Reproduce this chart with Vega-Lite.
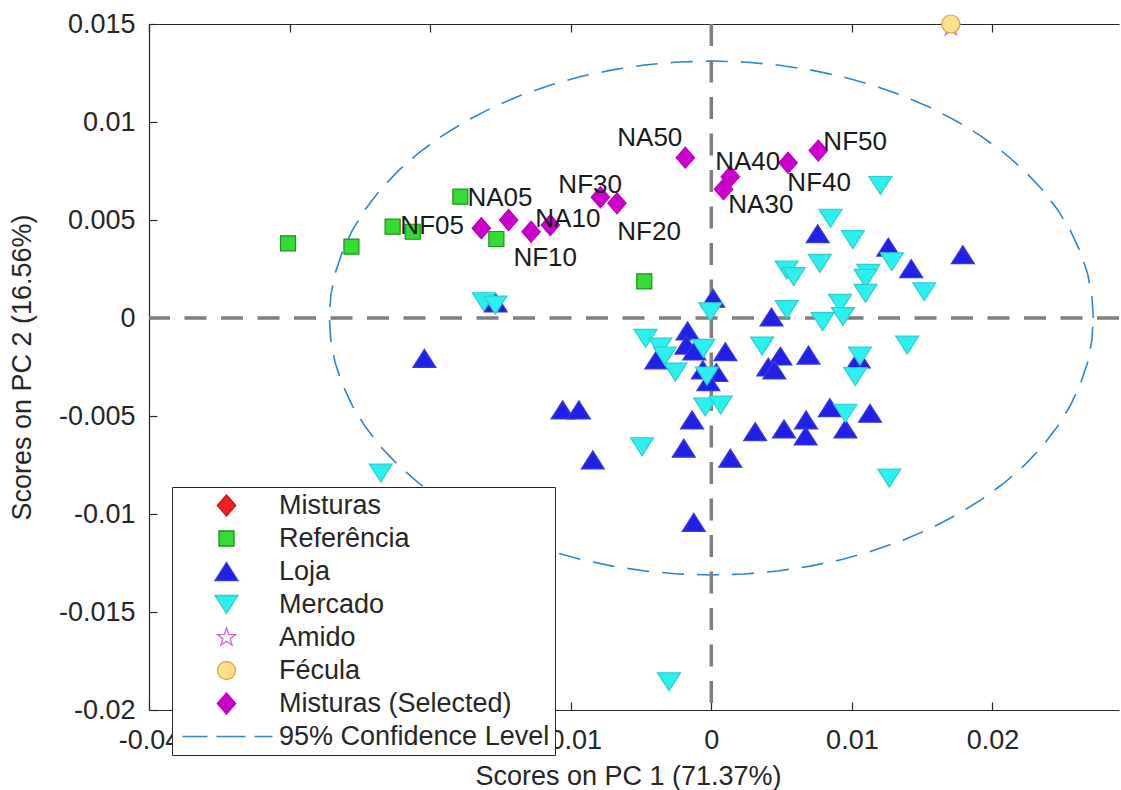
{
  "$schema": "https://vega.github.io/schema/vega-lite/v6.json",
  "width": 970,
  "height": 686,
  "autosize": "none",
  "padding": {"left": 149, "top": 24, "right": 2, "bottom": 80},
  "background": "white",
  "config": {
    "font": "Liberation Sans",
    "view": {"stroke": null},
    "axis": {"grid": false, "domainColor": "#262626", "tickColor": "#262626", "labelColor": "#262626", "titleColor": "#262626", "labelFont": "Liberation Sans", "titleFont": "Liberation Sans", "labelFontSize": 27, "titleFontSize": 27, "titleFontWeight": "normal", "domainWidth": 1.2, "tickWidth": 1.2, "labelFlush": false, "labelOverlap": false}
  },
  "datasets": {
    "ell": [
      {"o":0,"x":0.02717,"y":0},{"o":1,"x":0.02707,"y":0.00114},{"o":2,"x":0.02676,"y":0.00228},{"o":3,"x":0.02624,"y":0.00339},{"o":4,"x":0.02553,"y":0.00448},{"o":5,"x":0.02462,"y":0.00554},{"o":6,"x":0.02353,"y":0.00656},{"o":7,"x":0.02226,"y":0.00752},{"o":8,"x":0.02081,"y":0.00843},{"o":9,"x":0.01921,"y":0.00927},{"o":10,"x":0.01746,"y":0.01004},{"o":11,"x":0.01558,"y":0.01074},{"o":12,"x":0.01359,"y":0.01135},{"o":13,"x":0.01148,"y":0.01188},{"o":14,"x":0.00929,"y":0.01232},{"o":15,"x":0.00703,"y":0.01266},{"o":16,"x":0.00472,"y":0.01291},{"o":17,"x":0.00237,"y":0.01306},{"o":18,"x":0,"y":0.01311},
      {"o":19,"x":-0.00237,"y":0.01306},{"o":20,"x":-0.00472,"y":0.01291},{"o":21,"x":-0.00703,"y":0.01266},{"o":22,"x":-0.00929,"y":0.01232},{"o":23,"x":-0.01148,"y":0.01188},{"o":24,"x":-0.01359,"y":0.01135},{"o":25,"x":-0.01558,"y":0.01074},{"o":26,"x":-0.01746,"y":0.01004},{"o":27,"x":-0.01921,"y":0.00927},{"o":28,"x":-0.02081,"y":0.00843},{"o":29,"x":-0.02226,"y":0.00752},{"o":30,"x":-0.02353,"y":0.00656},{"o":31,"x":-0.02462,"y":0.00554},{"o":32,"x":-0.02553,"y":0.00448},{"o":33,"x":-0.02624,"y":0.00339},{"o":34,"x":-0.02676,"y":0.00228},{"o":35,"x":-0.02707,"y":0.00114},{"o":36,"x":-0.02717,"y":0},
      {"o":37,"x":-0.02707,"y":-0.00114},{"o":38,"x":-0.02676,"y":-0.00228},{"o":39,"x":-0.02624,"y":-0.00339},{"o":40,"x":-0.02553,"y":-0.00448},{"o":41,"x":-0.02462,"y":-0.00554},{"o":42,"x":-0.02353,"y":-0.00656},{"o":43,"x":-0.02226,"y":-0.00752},{"o":44,"x":-0.02081,"y":-0.00843},{"o":45,"x":-0.01921,"y":-0.00927},{"o":46,"x":-0.01746,"y":-0.01004},{"o":47,"x":-0.01558,"y":-0.01074},{"o":48,"x":-0.01359,"y":-0.01135},{"o":49,"x":-0.01148,"y":-0.01188},{"o":50,"x":-0.00929,"y":-0.01232},{"o":51,"x":-0.00703,"y":-0.01266},{"o":52,"x":-0.00472,"y":-0.01291},{"o":53,"x":-0.00237,"y":-0.01306},{"o":54,"x":0,"y":-0.01311},
      {"o":55,"x":0.00237,"y":-0.01306},{"o":56,"x":0.00472,"y":-0.01291},{"o":57,"x":0.00703,"y":-0.01266},{"o":58,"x":0.00929,"y":-0.01232},{"o":59,"x":0.01148,"y":-0.01188},{"o":60,"x":0.01359,"y":-0.01135},{"o":61,"x":0.01558,"y":-0.01074},{"o":62,"x":0.01746,"y":-0.01004},{"o":63,"x":0.01921,"y":-0.00927},{"o":64,"x":0.02081,"y":-0.00843},{"o":65,"x":0.02226,"y":-0.00752},{"o":66,"x":0.02353,"y":-0.00656},{"o":67,"x":0.02462,"y":-0.00554},{"o":68,"x":0.02553,"y":-0.00448},{"o":69,"x":0.02624,"y":-0.00339},{"o":70,"x":0.02676,"y":-0.00228},{"o":71,"x":0.02707,"y":-0.00114},{"o":72,"x":0.02717,"y":0}
    ],
    "pts": [
      {"g":"Referência","x":-0.03011,"y":0.00381},{"g":"Referência","x":-0.02560,"y":0.00364},{"g":"Referência","x":-0.02267,"y":0.00466},{"g":"Referência","x":-0.02124,"y":0.00440},{"g":"Referência","x":-0.01785,"y":0.00619},{"g":"Referência","x":-0.01529,"y":0.00403},{"g":"Referência","x":-0.00477,"y":0.00187},
      {"g":"Loja","x":0.00013,"y":0.00101},{"g":"Loja","x":0.00428,"y":0.00005},{"g":"Loja","x":-0.00169,"y":-0.00066},{"g":"Loja","x":-0.00178,"y":-0.00138},{"g":"Loja","x":-0.00121,"y":-0.00168},{"g":"Loja","x":-0.00391,"y":-0.00214},{"g":"Loja","x":0.00100,"y":-0.00172},{"g":"Loja","x":-0.00060,"y":-0.00265},{"g":"Loja","x":0.00036,"y":-0.00278},{"g":"Loja","x":-0.00021,"y":-0.00325},
      {"g":"Loja","x":-0.02041,"y":-0.00206},{"g":"Loja","x":-0.01058,"y":-0.00469},{"g":"Loja","x":-0.00942,"y":-0.00469},{"g":"Loja","x":-0.00137,"y":-0.00520},{"g":"Loja","x":-0.00196,"y":-0.00664},{"g":"Loja","x":0.00135,"y":-0.00715},{"g":"Loja","x":-0.00843,"y":-0.00724},{"g":"Loja","x":-0.00125,"y":-0.01043},{"g":"Loja","x":-0.01533,"y":0.00077},
      {"g":"Loja","x":0.00491,"y":-0.00194},{"g":"Loja","x":0.00405,"y":-0.00250},{"g":"Loja","x":0.00448,"y":-0.00265},{"g":"Loja","x":0.00691,"y":-0.00189},{"g":"Loja","x":0.01049,"y":-0.00209},{"g":"Loja","x":0.00843,"y":-0.00457},{"g":"Loja","x":0.01129,"y":-0.00486},{"g":"Loja","x":0.00674,"y":-0.00520},{"g":"Loja","x":0.00671,"y":-0.00602},{"g":"Loja","x":0.00517,"y":-0.00566},{"g":"Loja","x":0.00312,"y":-0.00580},{"g":"Loja","x":0.00954,"y":-0.00566},
      {"g":"Loja","x":0.00757,"y":0.00430},{"g":"Loja","x":0.01259,"y":0.00362},{"g":"Loja","x":0.01422,"y":0.00252},{"g":"Loja","x":0.01789,"y":0.00323},
      {"g":"Mercado","x":-0.01619,"y":0.00083},{"g":"Mercado","x":-0.01536,"y":0.00066},{"g":"Mercado","x":-0.00007,"y":0.00032},{"g":"Mercado","x":-0.00468,"y":-0.00104},{"g":"Mercado","x":-0.00363,"y":-0.00148},{"g":"Mercado","x":-0.00331,"y":-0.00194},{"g":"Mercado","x":-0.00256,"y":-0.00276},{"g":"Mercado","x":-0.00057,"y":-0.00155},{"g":"Mercado","x":-0.00031,"y":-0.00296},{"g":"Mercado","x":-0.00043,"y":-0.00454},{"g":"Mercado","x":0.00066,"y":-0.00444},{"g":"Mercado","x":-0.00493,"y":-0.00657},
      {"g":"Mercado","x":0.00361,"y":-0.00143},{"g":"Mercado","x":0.01057,"y":-0.00194},{"g":"Mercado","x":0.01024,"y":-0.00299},{"g":"Mercado","x":0.01393,"y":-0.00138},{"g":"Mercado","x":0.00954,"y":-0.00486},{"g":"Mercado","x":0.01266,"y":-0.00817},
      {"g":"Mercado","x":0.01203,"y":0.00676},{"g":"Mercado","x":0.00848,"y":0.00509},{"g":"Mercado","x":0.01007,"y":0.00400},{"g":"Mercado","x":0.00772,"y":0.00279},{"g":"Mercado","x":0.00536,"y":0.00245},{"g":"Mercado","x":0.00586,"y":0.00211},{"g":"Mercado","x":0.01284,"y":0.00287},{"g":"Mercado","x":0.01117,"y":0.00228},{"g":"Mercado","x":0.01097,"y":0.00202},{"g":"Mercado","x":0.01515,"y":0.00134},{"g":"Mercado","x":0.01097,"y":0.00126},{"g":"Mercado","x":0.00916,"y":0.00075},{"g":"Mercado","x":0.00537,"y":0.00043},{"g":"Mercado","x":0.00936,"y":0.00007},{"g":"Mercado","x":0.00792,"y":-0.00019},
      {"g":"Mercado","x":-0.02351,"y":-0.00791},{"g":"Mercado","x":-0.00301,"y":-0.01856},
      {"g":"Amido","x":0.01704,"y":0.01485},
      {"g":"Fécula","x":0.01704,"y":0.0150},
      {"g":"Misturas (Selected)","x":-0.01636,"y":0.00458},{"g":"Misturas (Selected)","x":-0.01442,"y":0.00500},{"g":"Misturas (Selected)","x":-0.01282,"y":0.00440},{"g":"Misturas (Selected)","x":-0.01145,"y":0.00474},{"g":"Misturas (Selected)","x":-0.00789,"y":0.00616},{"g":"Misturas (Selected)","x":-0.00671,"y":0.00585},{"g":"Misturas (Selected)","x":-0.00185,"y":0.00818},{"g":"Misturas (Selected)","x":0.00135,"y":0.00721},{"g":"Misturas (Selected)","x":0.00087,"y":0.00657},{"g":"Misturas (Selected)","x":0.00546,"y":0.00792},{"g":"Misturas (Selected)","x":0.00761,"y":0.00854}
    ],
    "lab": [
      {"label":"NF05","x":-0.02212,"y":0.00469},
      {"label":"NA05","x":-0.01735,"y":0.00612},
      {"label":"NF10","x":-0.01408,"y":0.00306},
      {"label":"NA10","x":-0.01252,"y":0.00505},
      {"label":"NF30","x":-0.01088,"y":0.00679},
      {"label":"NF20","x":-0.00669,"y":0.00439},
      {"label":"NA50","x":-0.00669,"y":0.00918},
      {"label":"NA40","x":0.00028,"y":0.00796},
      {"label":"NA30","x":0.00121,"y":0.00577},
      {"label":"NF40","x":0.00541,"y":0.00689},
      {"label":"NF50","x":0.00797,"y":0.00898}
    ]
  },
  "resolve": {"axis": {"x": "independent", "y": "independent"}},
  "layer": [
    {
      "data": {"name": "ell"},
      "mark": {"type": "line", "stroke": "#2f86c8", "strokeWidth": 1.6, "strokeDash": [22, 13]},
      "encoding": {
        "x": {"field": "x", "type": "quantitative", "scale": {"domain": [-0.04, 0.029], "nice": false, "zero": false}, "axis": null},
        "y": {"field": "y", "type": "quantitative", "scale": {"domain": [-0.02, 0.015], "nice": false, "zero": false}, "axis": null},
        "order": {"field": "o", "type": "quantitative"}
      }
    },
    {
      "data": {"values": [{}]},
      "mark": {"type": "rule", "stroke": "#7f7f7f", "strokeWidth": 3.5, "strokeDash": [22, 14.5]},
      "encoding": {
        "x": {"datum": 0, "type": "quantitative", "scale": {"domain": [-0.04, 0.029], "nice": false, "zero": false},
          "axis": {"orient": "top", "labels": false, "title": null, "values": [-0.04, -0.03, -0.02, -0.01, 0, 0.01, 0.02], "tickSize": -8, "domain": true}}
      }
    },
    {
      "data": {"values": [{}]},
      "mark": {"type": "rule", "stroke": "#7f7f7f", "strokeWidth": 3.5, "strokeDash": [22, 14.5]},
      "encoding": {
        "y": {"datum": 0, "type": "quantitative", "scale": {"domain": [-0.02, 0.015], "nice": false, "zero": false}, "axis": null}
      }
    },
    {
      "data": {"name": "pts"},
      "mark": {"type": "point", "filled": true, "opacity": 1, "size": 400, "strokeWidth": 1.2},
      "encoding": {
        "x": {"field": "x", "type": "quantitative", "scale": {"domain": [-0.04, 0.029], "nice": false, "zero": false},
          "axis": {"orient": "bottom", "values": [-0.04, -0.03, -0.02, -0.01, 0, 0.01, 0.02], "labelExpr": "'' + datum.value", "title": "Scores on PC 1 (71.37%)", "tickSize": -8, "labelPadding": 25, "titleX": 479, "titleY": 66, "titleBaseline": "middle", "titleAlign": "center"}},
        "y": {"field": "y", "type": "quantitative", "scale": {"domain": [-0.02, 0.015], "nice": false, "zero": false},
          "axis": {"orient": "left", "values": [-0.02, -0.015, -0.01, -0.005, 0, 0.005, 0.01, 0.015], "labelExpr": "'' + datum.value", "title": "Scores on PC 2 (16.56%)", "tickSize": -8, "labelPadding": 22, "titleX": -127, "titleY": 343, "titleAngle": 270, "titleAlign": "center", "titleBaseline": "middle"}},
        "shape": {"field": "g", "type": "nominal",
          "scale": {"domain": ["Misturas", "Referência", "Loja", "Mercado", "Amido", "Fécula", "Misturas (Selected)", "95% Confidence Level"],
            "range": ["M0,-1.05L0.92,0L0,1.05L-0.92,0Z", "M-0.75,-0.75L0.75,-0.75L0.75,0.75L-0.75,0.75Z", "M0,-0.9L1.15,0.9L-1.15,0.9Z", "M0,0.9L-1.15,-0.9L1.15,-0.9Z", "M0,-0.95L0.22,-0.31L0.9,-0.29L0.36,0.12L0.56,0.77L0,0.38L-0.56,0.77L-0.36,0.12L-0.9,-0.29L-0.22,-0.31Z", "M0.9,0A0.9,0.9,0,1,1,-0.9,0A0.9,0.9,0,1,1,0.9,0Z", "M0,-1.05L0.92,0L0,1.05L-0.92,0Z", "M-4.4,0L-1.9,0M-1,0L1.9,0M2.8,0L4.6,0"]},
          "legend": {"orient": "none", "legendX": 23, "legendY": 463, "title": null, "padding": 5, "fillColor": "white", "strokeColor": "#262626", "labelFontSize": 27, "labelFont": "Liberation Sans", "labelColor": "#262626", "symbolSize": 400, "symbolOffset": 36, "labelOffset": 39, "rowPadding": 5, "symbolStrokeWidth": 1.3, "labelLimit": 500}},
        "fill": {"field": "g", "type": "nominal",
          "scale": {"domain": ["Misturas", "Referência", "Loja", "Mercado", "Amido", "Fécula", "Misturas (Selected)", "95% Confidence Level"],
            "range": ["#ee2222", "#33dd33", "#2020e8", "#2af0f0", "transparent", "#fde08c", "#cc00cc", "transparent"]},
          "legend": {"orient": "none", "legendX": 23, "legendY": 463, "title": null, "padding": 5, "fillColor": "white", "strokeColor": "#262626", "labelFontSize": 27, "labelFont": "Liberation Sans", "labelColor": "#262626", "symbolSize": 400, "symbolOffset": 36, "labelOffset": 39, "rowPadding": 5, "symbolStrokeWidth": 1.3, "labelLimit": 500}},
        "stroke": {"field": "g", "type": "nominal",
          "scale": {"domain": ["Misturas", "Referência", "Loja", "Mercado", "Amido", "Fécula", "Misturas (Selected)", "95% Confidence Level"],
            "range": ["#cc1111", "#1f8f1f", "#3a3ad8", "#33cccc", "#cc66cc", "#d6a53c", "#bb00bb", "#2f86c8"]},
          "legend": {"orient": "none", "legendX": 23, "legendY": 463, "title": null, "padding": 5, "fillColor": "white", "strokeColor": "#262626", "labelFontSize": 27, "labelFont": "Liberation Sans", "labelColor": "#262626", "symbolSize": 400, "symbolOffset": 36, "labelOffset": 39, "rowPadding": 5, "symbolStrokeWidth": 1.3, "labelLimit": 500}}
      }
    },
    {
      "data": {"name": "lab"},
      "mark": {"type": "text", "align": "left", "baseline": "middle", "fontSize": 26, "font": "Liberation Sans", "color": "#1a1a1a"},
      "encoding": {
        "x": {"field": "x", "type": "quantitative", "scale": {"domain": [-0.04, 0.029], "nice": false, "zero": false}, "axis": null},
        "y": {"field": "y", "type": "quantitative", "scale": {"domain": [-0.02, 0.015], "nice": false, "zero": false}, "axis": null},
        "text": {"field": "label"}
      }
    }
  ]
}
